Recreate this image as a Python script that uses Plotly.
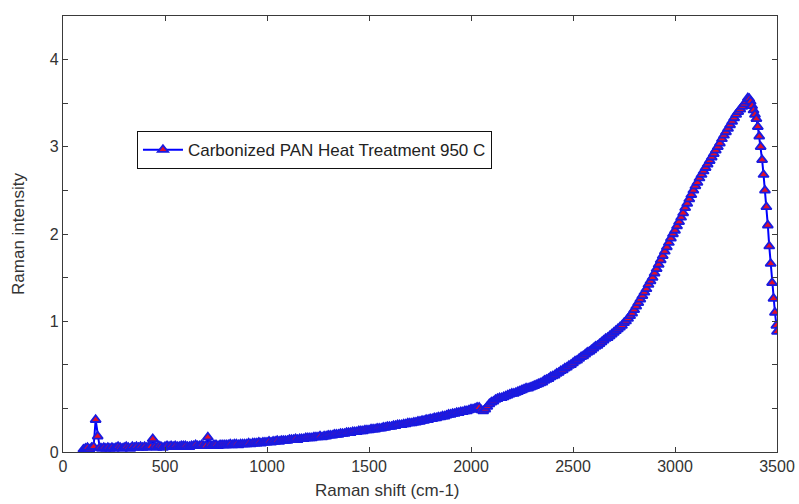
import plotly.graph_objects as go

# Raman shift (cm-1) sampling and read-off intensities
shift_rise = [
    100, 110, 120, 130, 140, 150, 160, 170, 180, 190,
    200, 210, 220, 230, 240, 250, 260, 270, 280, 290,
    300, 310, 320, 330, 340, 350, 360, 370, 380, 390,
    400, 410, 420, 430, 440, 450, 460, 470, 480, 490,
    500, 510, 520, 530, 540, 550, 560, 570, 580, 590,
    600, 610, 620, 630, 640, 650, 660, 670, 680, 690,
    700, 710, 720, 730, 740, 750, 760, 770, 780, 790,
    800, 810, 820, 830, 840, 850, 860, 870, 880, 890,
    900, 910, 920, 930, 940, 950, 960, 970, 980, 990,
    1000, 1010, 1020, 1030, 1040, 1050, 1060, 1070, 1080, 1090,
    1100, 1110, 1120, 1130, 1140, 1150, 1160, 1170, 1180, 1190,
    1200, 1210, 1220, 1230, 1240, 1250, 1260, 1270, 1280, 1290,
    1300, 1310, 1320, 1330, 1340, 1350, 1360, 1370, 1380, 1390,
    1400, 1410, 1420, 1430, 1440, 1450, 1460, 1470, 1480, 1490,
    1500, 1510, 1520, 1530, 1540, 1550, 1560, 1570, 1580, 1590,
    1600, 1610, 1620, 1630, 1640, 1650, 1660, 1670, 1680, 1690,
    1700, 1710, 1720, 1730, 1740, 1750, 1760, 1770, 1780, 1790,
    1800, 1810, 1820, 1830, 1840, 1850, 1860, 1870, 1880, 1890,
    1900, 1910, 1920, 1930, 1940, 1950, 1960, 1970, 1980, 1990,
    2000, 2010, 2020, 2030, 2040, 2050, 2060, 2070, 2080, 2090,
    2100, 2110, 2120, 2130, 2140, 2150, 2160, 2170, 2180, 2190,
    2200, 2210, 2220, 2230, 2240, 2250, 2260, 2270, 2280, 2290,
    2300, 2310, 2320, 2330, 2340, 2350, 2360, 2370, 2380, 2390,
    2400, 2410, 2420, 2430, 2440, 2450, 2460, 2470, 2480, 2490,
    2500, 2510, 2520, 2530, 2540, 2550, 2560, 2570, 2580, 2590,
    2600, 2610, 2620, 2630, 2640, 2650, 2660, 2670, 2680, 2690,
    2700, 2710, 2720, 2730, 2740, 2750, 2760, 2770, 2780, 2790,
    2800, 2810, 2820, 2830, 2840, 2850, 2860, 2870, 2880, 2890,
    2900, 2910, 2920, 2930, 2940, 2950, 2960, 2970, 2980, 2990,
    3000, 3010, 3020, 3030, 3040, 3050, 3060, 3070, 3080, 3090,
    3100, 3110, 3120, 3130, 3140, 3150, 3160, 3170, 3180, 3190,
    3200, 3210, 3220, 3230, 3240, 3250, 3260, 3270, 3280, 3290,
    3300, 3310, 3320, 3330, 3340, 3350,
]
intensity_rise = [
    -0.47, -0.46, -0.45, -0.47, -0.45, -0.44, -0.13, -0.32, -0.45, -0.46,
    -0.45, -0.46, -0.45, -0.46, -0.45, -0.46, -0.45, -0.44, -0.45, -0.46,
    -0.45, -0.44, -0.45, -0.46, -0.44, -0.45, -0.44, -0.45, -0.44, -0.45,
    -0.44, -0.45, -0.44, -0.44, -0.35, -0.44, -0.45, -0.43, -0.44, -0.45,
    -0.44, -0.43, -0.44, -0.43, -0.44, -0.43, -0.44, -0.44, -0.43, -0.43,
    -0.43, -0.44, -0.44, -0.43, -0.43, -0.42, -0.43, -0.43, -0.42, -0.43,
    -0.43, -0.33, -0.42, -0.43, -0.42, -0.42, -0.43, -0.42, -0.42, -0.42,
    -0.42, -0.42, -0.41, -0.42, -0.41, -0.41, -0.42, -0.41, -0.41, -0.41,
    -0.41, -0.40, -0.41, -0.40, -0.40, -0.40, -0.39, -0.40, -0.39, -0.39,
    -0.39, -0.38, -0.39, -0.38, -0.38, -0.37, -0.38, -0.37, -0.37, -0.37,
    -0.37, -0.36, -0.36, -0.36, -0.35, -0.36, -0.35, -0.35, -0.35, -0.34,
    -0.34, -0.34, -0.34, -0.33, -0.33, -0.33, -0.32, -0.33, -0.32, -0.32,
    -0.31, -0.31, -0.31, -0.30, -0.30, -0.30, -0.29, -0.29, -0.29, -0.28,
    -0.28, -0.28, -0.27, -0.27, -0.27, -0.26, -0.26, -0.26, -0.25, -0.25,
    -0.25, -0.24, -0.24, -0.24, -0.23, -0.23, -0.23, -0.22, -0.22, -0.21,
    -0.21, -0.21, -0.20, -0.20, -0.19, -0.19, -0.19, -0.18, -0.18, -0.17,
    -0.17, -0.17, -0.16, -0.16, -0.15, -0.15, -0.14, -0.14, -0.13, -0.13,
    -0.12, -0.12, -0.11, -0.11, -0.10, -0.10, -0.09, -0.09, -0.08, -0.07,
    -0.07, -0.06, -0.06, -0.05, -0.05, -0.04, -0.04, -0.03, -0.03, -0.02,
    -0.01, -0.01, 0.00, 0.01, 0.01, -0.02, -0.03, -0.01, 0.02, 0.05,
    0.07, 0.08, 0.10, 0.11, 0.12, 0.12, 0.13, 0.14, 0.15, 0.16,
    0.17, 0.17, 0.18, 0.19, 0.20, 0.21, 0.22, 0.23, 0.23, 0.24,
    0.25, 0.26, 0.27, 0.28, 0.29, 0.30, 0.32, 0.33, 0.34, 0.36,
    0.37, 0.38, 0.40, 0.41, 0.43, 0.44, 0.46, 0.47, 0.49, 0.50,
    0.52, 0.54, 0.55, 0.57, 0.59, 0.60, 0.62, 0.64, 0.65, 0.67,
    0.69, 0.71, 0.72, 0.74, 0.76, 0.78, 0.80, 0.81, 0.83, 0.85,
    0.87, 0.89, 0.91, 0.93, 0.95, 0.98, 1.00, 1.03, 1.06, 1.09,
    1.13, 1.17, 1.21, 1.25, 1.29, 1.33, 1.37, 1.42, 1.46, 1.50,
    1.55, 1.60, 1.65, 1.70, 1.75, 1.80, 1.85, 1.90, 1.95, 2.00,
    2.04, 2.09, 2.14, 2.19, 2.24, 2.30, 2.35, 2.40, 2.45, 2.50,
    2.55, 2.59, 2.64, 2.68, 2.72, 2.76, 2.80, 2.84, 2.88, 2.92,
    2.96, 3.00, 3.04, 3.09, 3.13, 3.17, 3.21, 3.25, 3.29, 3.33,
    3.37, 3.40, 3.43, 3.46, 3.49, 3.52,
]
shift_fall = [3357, 3364, 3371, 3378, 3385, 3392, 3399, 3406, 3413, 3420,
              3427, 3434, 3441, 3448, 3455, 3462, 3469, 3476, 3483, 3490,
              3497, 3500]
intensity_fall = [3.56, 3.55, 3.52, 3.47, 3.42, 3.37, 3.32, 3.23, 3.12, 3.00,
                  2.85, 2.68, 2.50, 2.31, 2.10, 1.86, 1.66, 1.44, 1.26, 1.10,
                  0.95, 0.88]

x_ticks = [0, 500, 1000, 1500, 2000, 2500, 3000, 3500]
x_labels = ["0", "500", "1000", "1500", "2000", "2500", "3000", "3500"]
y_ticks = [-0.5, 0, 0.5, 1, 1.5, 2, 2.5, 3, 3.5, 4, 4.5]
y_labels = ["0", "", "", "1", "", "2", "", "3", "", "4", ""]

series_name = "Carbonized PAN Heat Treatment 950 C"
x_title = "Raman shift (cm-1)"
y_title = "Raman intensity"

shift = shift_rise + shift_fall
intensity = intensity_rise + intensity_fall

fig = go.Figure()
fig.add_trace(go.Scatter(
    x=shift, y=intensity, mode="lines+markers", name=series_name,
    line=dict(color="#0000ff", width=2),
    marker=dict(symbol="triangle-up", size=9, color="#e0102a",
                line=dict(color="#1a1ae0", width=1.8)),
))

axis_common = dict(
    showline=True, linecolor="#3a3a3a", linewidth=1.2, mirror="ticks",
    ticks="inside", ticklen=5, tickcolor="#3a3a3a", tickwidth=1.2,
    showgrid=False, zeroline=False, automargin=False,
)

fig.update_layout(
    width=799, height=504,
    margin=dict(l=63, r=22, t=16, b=52),
    paper_bgcolor="white", plot_bgcolor="white",
    font=dict(family="Liberation Sans, Arial, sans-serif", size=16, color="#333333"),
    xaxis=dict(range=[0, 3500], tickvals=x_ticks, ticktext=x_labels, **axis_common),
    yaxis=dict(range=[-0.5, 4.5], tickvals=y_ticks, ticktext=y_labels,
               title=dict(text=y_title, standoff=20, font=dict(size=17)), **axis_common),
    showlegend=True,
    legend=dict(x=0.1036, y=0.736, xanchor="left", yanchor="top",
                bgcolor="white", bordercolor="#111111", borderwidth=1,
                itemwidth=40, font=dict(size=17, color="#222222")),
    annotations=[dict(text=x_title, xref="paper", yref="paper",
                      x=0.455, y=-0.0894, xanchor="center", yanchor="middle",
                      showarrow=False, font=dict(size=17, color="#333333"))],
)

fig.write_html("out.html")
